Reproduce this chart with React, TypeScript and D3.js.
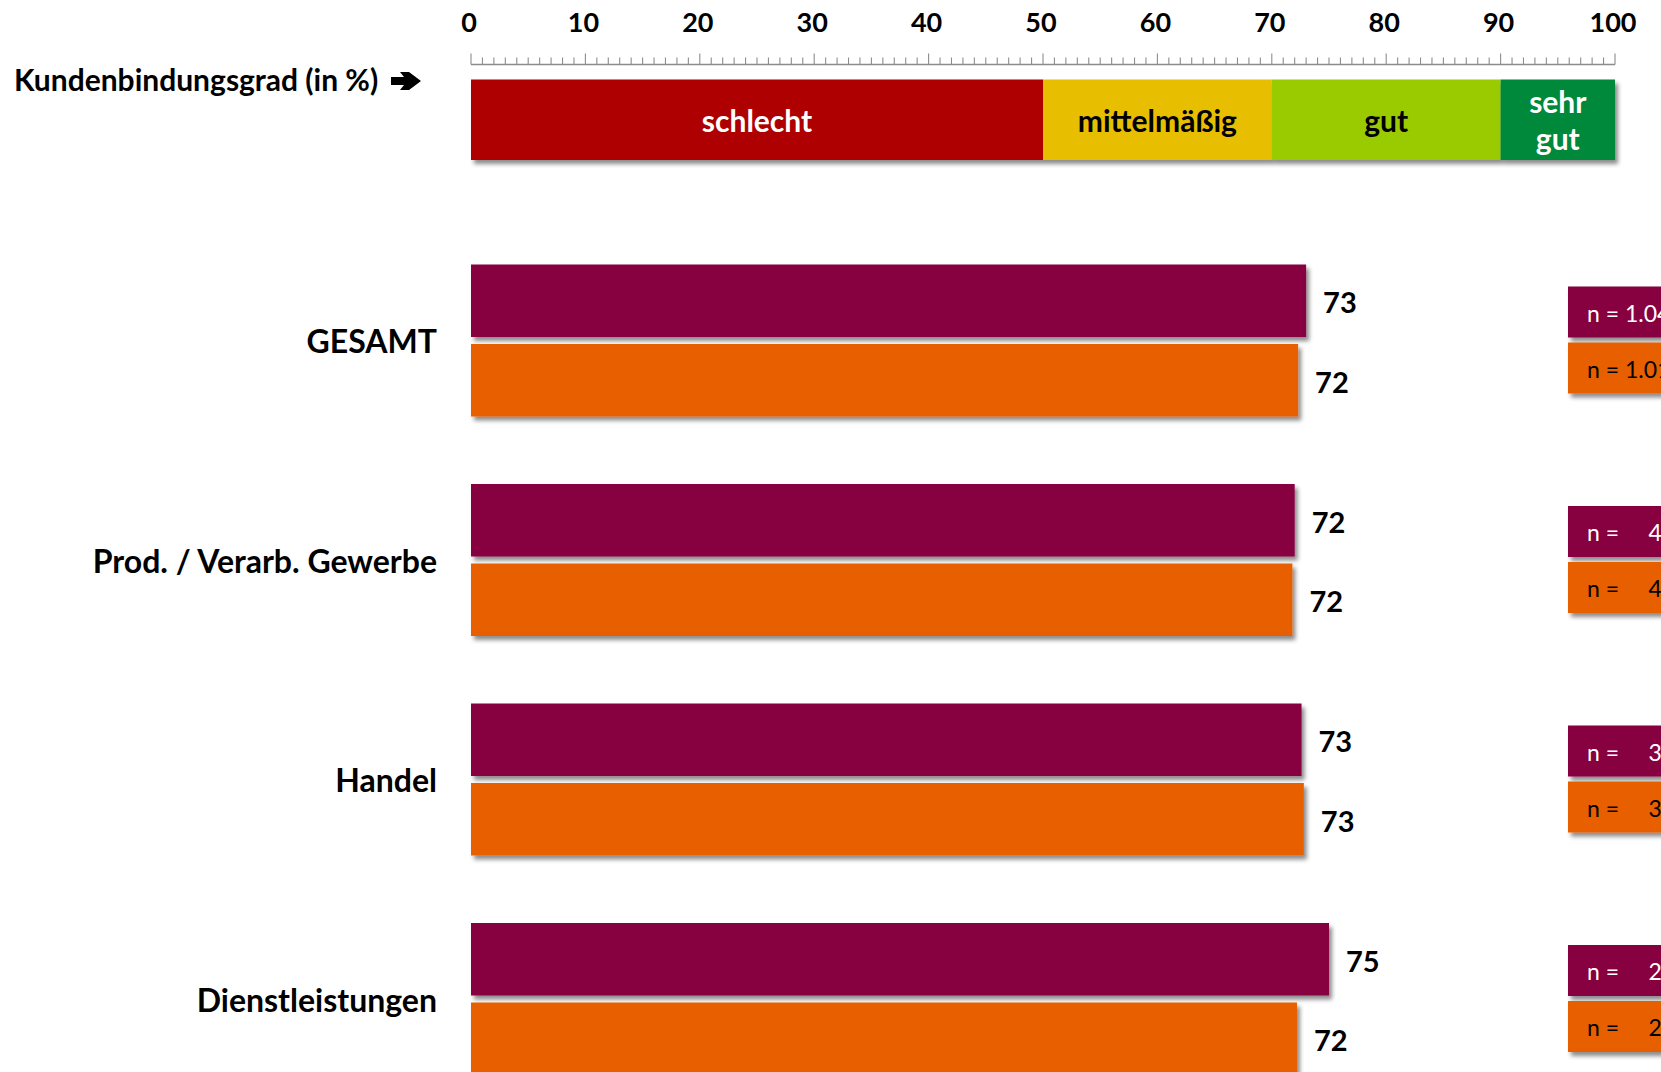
import React from "react";
import * as d3 from "d3";

const categories = ["GESAMT", "Prod. / Verarb. Gewerbe", "Handel", "Dienstleistungen"];
const seriesNames = ["Serie 1", "Serie 2"];
const series1Values = [73.0, 72.0, 72.6, 75.0];
const series2Values = [72.3, 71.8, 72.8, 72.2];
const series1Labels = ["73", "72", "73", "75"];
const series2Labels = ["72", "72", "73", "72"];
const series1N = ["n = 1.040", "n =     412", "n =     318", "n =     298"];
const series2N = ["n = 1.012", "n =     405", "n =     311", "n =     296"];
const axisTicks = [0, 10, 20, 30, 40, 50, 60, 70, 80, 90, 100];
const rangeStarts = [0, 50, 70, 90];
const rangeEnds = [50, 70, 90, 100];
const rangeLabels = [["schlecht"], ["mittelmäßig"], ["gut"], ["sehr", "gut"]];
const rangeColors = ["#AE0000", "#E7BF00", "#99CB00", "#00883A"];
const rangeTextColors = ["#ffffff", "#000000", "#000000", "#ffffff"];
const axisTitle = "Kundenbindungsgrad (in %)";

const W = 1661;
const H = 1072;
const FONT = "Lato, 'Open Sans', sans-serif";
const PURPLE = "#870041";
const ORANGE = "#E85F00";

export default function App() {
  const x = d3.scaleLinear().domain([0, 100]).range([471, 1615]);
  const y = d3.scaleBand<string>().domain(categories).range([230.75, 1108.75]);
  const inner = d3.scaleBand<string>().domain(seriesNames).range([-76, 76]).paddingInner(0.088);
  const minorTicks = d3.range(0, 101, 1);
  const colors = [PURPLE, ORANGE];
  const valueSets = [series1Values, series2Values];
  const labelSets = [series1Labels, series2Labels];
  const nSets = [series1N, series2N];
  const nTextColors = ["#ffffff", "#000000"];
  const bandTop = 79.5;
  const bandBottom = 160;
  const axisY = 64.5;

  return (
    <svg width={W} height={H} style={{ position: "absolute", left: 0, top: 0, background: "#fff" }}>
      <defs>
        <filter id="shadow" x="-5%" y="-20%" width="115%" height="150%">
          <feDropShadow dx="3" dy="4" stdDeviation="2.2" floodColor="#000" floodOpacity="0.45" />
        </filter>
      </defs>
      <rect x={0} y={0} width={W} height={H} fill="#fff" />

      {/* ruler */}
      <line x1={x(0)} x2={x(100)} y1={axisY} y2={axisY} stroke="#8c8c8c" strokeWidth={1.3} />
      {minorTicks.map((t) => (
        <line key={t} x1={x(t)} x2={x(t)} y1={axisY} y2={t % 10 === 0 ? axisY - 11 : axisY - 7}
          stroke="#8c8c8c" strokeWidth={1.1} />
      ))}
      {axisTicks.map((t) => (
        <text key={t} x={x(t) - 2} y={21} textAnchor="middle" dominantBaseline="central"
          fontFamily={FONT} fontWeight={700} fontSize={27} fill="#000">{t}</text>
      ))}

      <text x={14} y={79} dominantBaseline="central" fontFamily={FONT} fontWeight={700} fontSize={30} fill="#000">
        {axisTitle}
      </text>
      <path d="M391,77 L404,77 L400,72 L409,72 L421,81 L409,90 L400,90 L404,85 L391,85 Z" fill="#000" />

      {/* colour bands */}
      <g filter="url(#shadow)">
        {rangeStarts.map((s, i) => (
          <rect key={i} x={x(s)} y={bandTop} width={x(rangeEnds[i]) - x(s)} height={bandBottom - bandTop} fill={rangeColors[i]} />
        ))}
      </g>
      {rangeStarts.map((s, i) => {
        const cx = (x(s) + x(rangeEnds[i])) / 2;
        const cy = (bandTop + bandBottom) / 2;
        const lines = rangeLabels[i];
        return lines.map((ln, j) => (
          <text key={i + "-" + j} x={cx} y={cy + (j - (lines.length - 1) / 2) * 37} textAnchor="middle"
            dominantBaseline="central" fontFamily={FONT} fontWeight={700} fontSize={30} fill={rangeTextColors[i]}>{ln}</text>
        ));
      })}

      {/* bars */}
      {categories.map((c, i) => {
        const cy = (y(c) as number) + y.bandwidth() / 2;
        return (
          <g key={c}>
            <text x={437} y={cy} textAnchor="end" dominantBaseline="central" fontFamily={FONT} fontWeight={700}
              fontSize={32} fill="#000">{c}</text>
            {seriesNames.map((s, k) => {
              const top = cy + (inner(s) as number);
              const v = valueSets[k][i];
              return (
                <g key={s}>
                  <rect x={x(0)} y={top} width={x(v) - x(0)} height={inner.bandwidth()} fill={colors[k]} filter="url(#shadow)" />
                  <text x={x(v) + 17} y={top + inner.bandwidth() / 2 + 1} dominantBaseline="central" fontFamily={FONT}
                    fontWeight={700} fontSize={29} fill="#000">{labelSets[k][i]}</text>
                </g>
              );
            })}
            {seriesNames.map((s, k) => {
              const top = k === 0 ? cy - 54 : cy + 2;
              return (
                <g key={"n" + s}>
                  <rect x={1568} y={top} width={120} height={51} fill={colors[k]} filter="url(#shadow)" />
                  <text x={1587} y={top + 26} dominantBaseline="central" fontFamily={FONT} fontSize={23}
                    fill={nTextColors[k]} style={{ whiteSpace: "pre" }}>{nSets[k][i]}</text>
                </g>
              );
            })}
          </g>
        );
      })}
    </svg>
  );
}
